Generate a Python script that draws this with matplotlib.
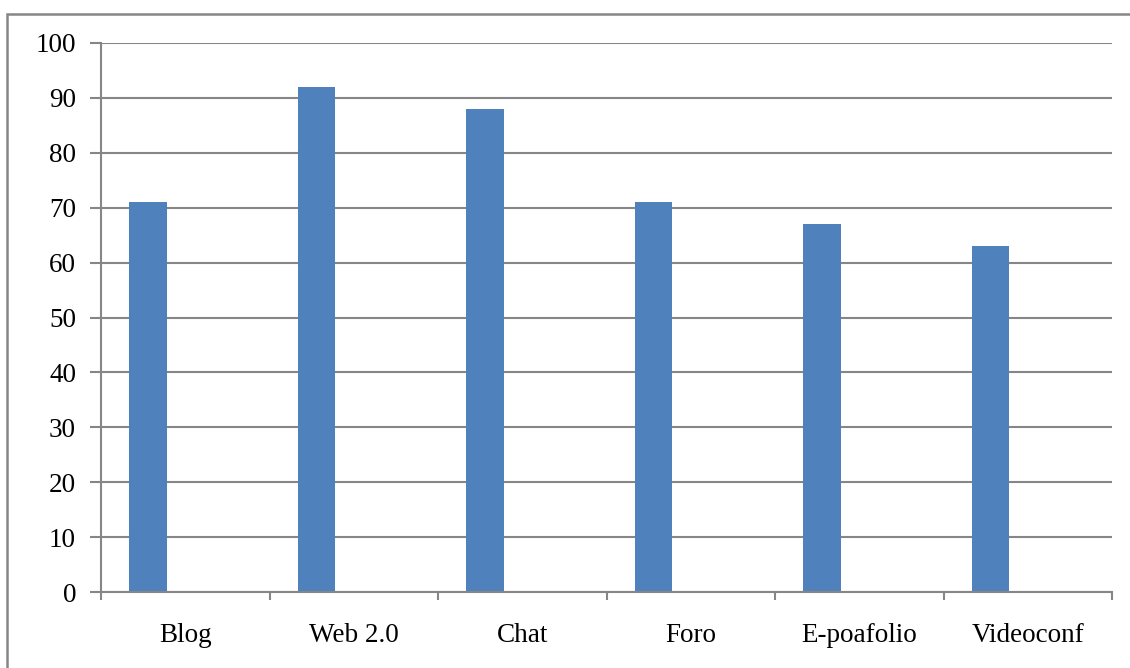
import matplotlib
matplotlib.use("Agg")
import matplotlib.pyplot as plt
from matplotlib.patches import Rectangle
import numpy as np

categories = ["Blog", "Web 2.0", "Chat", "Foro", "E-poafolio", "Videoconf"]
values = [71, 92, 88, 71, 67, 63]
yticks = [0, 10, 20, 30, 40, 50, 60, 70, 80, 90, 100]

W, H = 1130, 668
fig = plt.figure(figsize=(W / 100, H / 100), dpi=100)
plt.rcParams['font.family'] = ['Liberation Serif', 'DejaVu Serif']

gray = "#868686"
# outer chart border (extends past right/bottom)
fig.patches.append(Rectangle((7 / W, -0.5), 2.0, 1 - 14 / H + 0.5,
                             transform=fig.transFigure, fill=False,
                             edgecolor=gray, linewidth=1.8))

ax = fig.add_axes([101 / W, 1 - 592 / H, (1112 - 101) / W, (592 - 43) / H])
x = np.arange(len(categories))
ax.bar(x - 0.221, values, width=0.222, color="#4F81BD", zorder=3)

ax.set_xlim(-0.5, len(categories) - 0.5)
ax.set_ylim(0, 100)
ax.set_yticks(yticks)
ax.set_yticklabels([str(t) for t in yticks], fontsize=19.5)
ax.set_xticks(np.arange(-0.5, len(categories), 1.0))
ax.set_xticklabels([])
ax.set_xticks(x, minor=True)
ax.set_xticklabels(categories, minor=True, fontsize=19.5)
ax.tick_params(axis='x', which='minor', length=0, pad=22)
ax.tick_params(axis='x', which='major', length=6, width=1.5, color=gray)
ax.tick_params(axis='y', length=8, width=1.5, color=gray, pad=10)

ax.grid(axis='y', color=gray, linewidth=1.5, zorder=1)
for s in ['top', 'right']:
    ax.spines[s].set_visible(False)
for s in ['left', 'bottom']:
    ax.spines[s].set_color(gray)
    ax.spines[s].set_linewidth(1.5)
    ax.spines[s].set_zorder(4)

fig.savefig("out.png", dpi=100)
